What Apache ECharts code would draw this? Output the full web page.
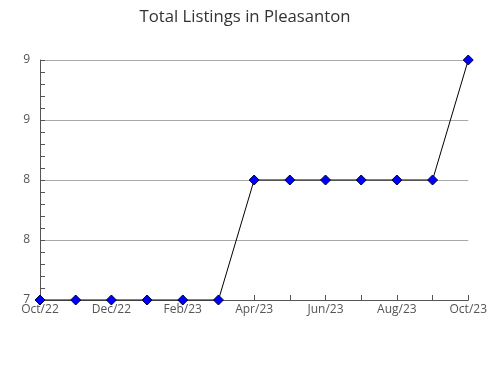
<!DOCTYPE html>
<html><head><meta charset="utf-8">
<script src="https://cdn.jsdelivr.net/npm/echarts@6/dist/echarts.min.js"></script>
<style>html,body{margin:0;padding:0;background:#fff}#c{width:490px;height:380px}</style>
</head><body><div id="c"></div>
<script>
var months = ['Oct/22','Nov/22','Dec/22','Jan/23','Feb/23','Mar/23','Apr/23','May/23','Jun/23','Jul/23','Aug/23','Sep/23','Oct/23'];
var listings = [7,7,7,7,7,7,8,8,8,8,8,8,9];
var titleText = 'Total Listings in Pleasanton';

var chart = echarts.init(document.getElementById('c'));
chart.setOption({
  animation: false,
  title: {text: titleText, left: 'center', top: 4,
    textStyle: {fontFamily: 'Open Sans', fontSize: 16.7, fontWeight: 'normal', color: '#333'}},
  grid: {left: 40, right: 20, top: 60, bottom: 80},
  xAxis: {
    type: 'category', data: months, boundaryGap: false,
    axisLine: {lineStyle: {color: '#555'}},
    axisTick: {inside: true, length: 5, interval: 0, lineStyle: {color: '#555'}},
    axisLabel: {interval: 1, color: '#555', fontFamily: 'Open Sans', fontSize: 12, margin: 4},
    splitLine: {show: false}
  },
  yAxis: {
    type: 'value', min: 7, max: 9, interval: 0.5,
    axisLine: {show: true, lineStyle: {color: '#555'}},
    axisTick: {show: true, inside: true, length: 5, lineStyle: {color: '#555'}},
    minorTick: {show: true, splitNumber: 5, length: 5, lineStyle: {color: '#555'}},
    axisLabel: {color: '#555', fontFamily: 'Open Sans', fontSize: 12, margin: 10,
      formatter: function(v){ return String(Math.round(v)); }},
    splitLine: {lineStyle: {color: '#aaa'}}
  },
  series: [{
    type: 'line', data: listings,
    symbol: 'diamond', symbolSize: 10,
    lineStyle: {color: '#000', width: 1},
    itemStyle: {color: '#0000ff', borderColor: '#000033', borderWidth: 1}
  }]
});
</script></body></html>
